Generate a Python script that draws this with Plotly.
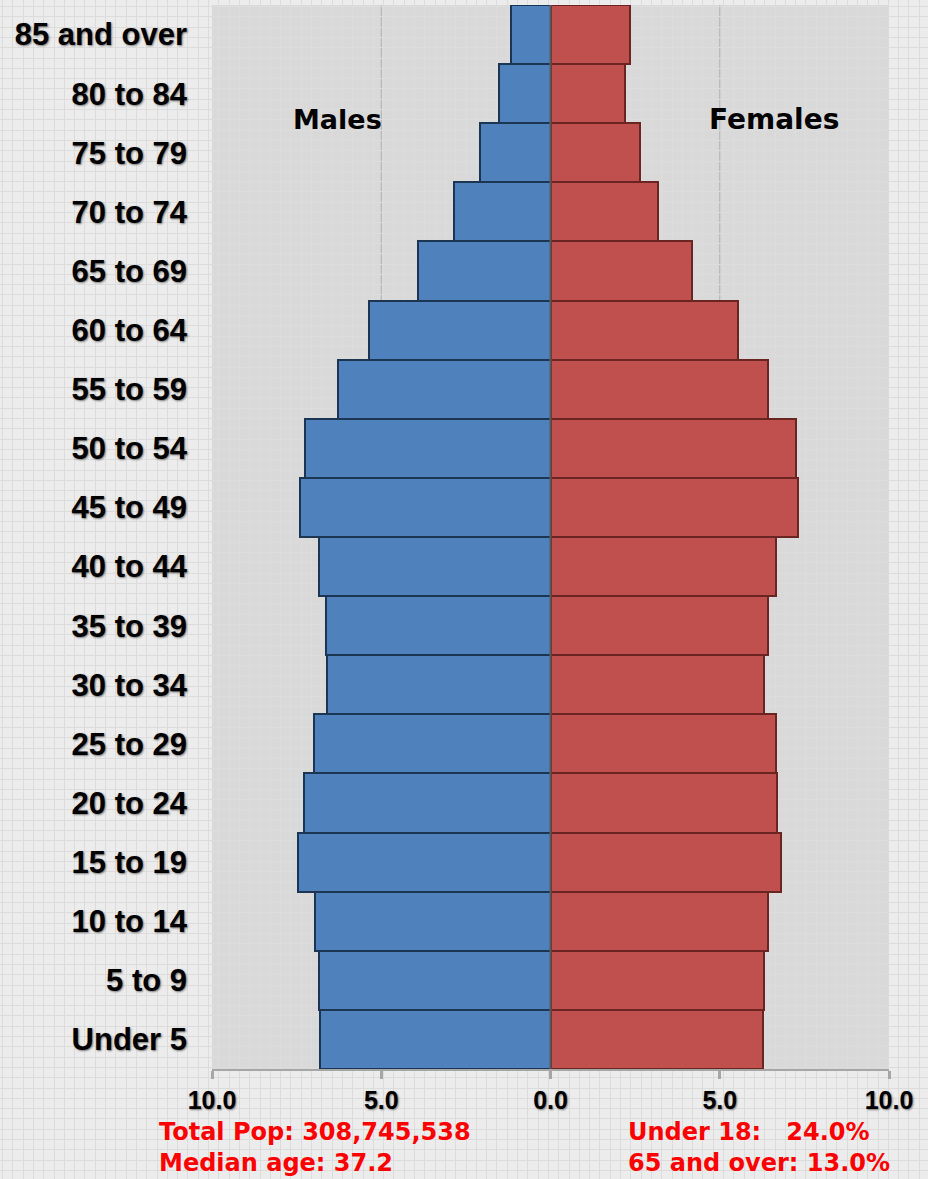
import plotly.graph_objects as go

age_groups = ["Under 5", "5 to 9", "10 to 14", "15 to 19", "20 to 24", "25 to 29",
              "30 to 34", "35 to 39", "40 to 44", "45 to 49", "50 to 54", "55 to 59",
              "60 to 64", "65 to 69", "70 to 74", "75 to 79", "80 to 84", "85 and over"]
males = [6.82, 6.85, 6.97, 7.47, 7.27, 7.00, 6.59, 6.62, 6.85, 7.39, 7.24, 6.29,
         5.35, 3.90, 2.84, 2.07, 1.51, 1.18]
females = [6.29, 6.32, 6.44, 6.82, 6.68, 6.65, 6.32, 6.44, 6.65, 7.30, 7.24, 6.44,
           5.55, 4.19, 3.19, 2.63, 2.19, 2.36]
x_tickvals = [-10, -5, 0, 5, 10]
x_ticktext = ["10.0", "5.0", "0.0", "5.0", "10.0"]

W, H = 928, 1179
x0p, x1p, y0p, y1p = 212, 889, 5, 1069

fig = go.Figure()

# invisible trace to create the page-grid background axes (xaxis/yaxis)
fig.add_trace(go.Scatter(x=[0], y=[0], mode="markers", marker=dict(opacity=0),
                         hoverinfo="skip", showlegend=False, xaxis="x", yaxis="y"))

fig.add_trace(go.Bar(
    y=age_groups, x=[-v for v in males], orientation="h", name="Males",
    marker=dict(color="#4f81bd", line=dict(color="#1b3553", width=2)),
    xaxis="x2", yaxis="y2", showlegend=False))
fig.add_trace(go.Bar(
    y=age_groups, x=females, orientation="h", name="Females",
    marker=dict(color="#c0504d", line=dict(color="#6a2422", width=2)),
    xaxis="x2", yaxis="y2", showlegend=False))

fig.update_layout(
    width=W, height=H,
    margin=dict(l=0, r=0, t=0, b=0, autoexpand=False),
    paper_bgcolor="#ececec",
    plot_bgcolor="rgba(0,0,0,0)",
    barmode="relative",
    bargap=0,
    xaxis=dict(domain=[0, 1], range=[0, W], tick0=2.5, dtick=10.3, showgrid=True,
               gridcolor="#dcdcdc", gridwidth=1, showticklabels=False, zeroline=False,
               showline=False, fixedrange=True, automargin=False),
    yaxis=dict(domain=[0, 1], range=[H, 0], tick0=6.5, dtick=10.3, showgrid=True,
               gridcolor="#dcdcdc", gridwidth=1, showticklabels=False, zeroline=False,
               showline=False, fixedrange=True, automargin=False),
    xaxis2=dict(domain=[x0p / W, x1p / W], anchor="y2", range=[-10, 10],
                tickvals=x_tickvals, ticktext=x_ticktext, automargin=False,
                showgrid=False, zeroline=False,
                showline=True, linecolor="#a6a6a6", linewidth=2,
                ticks="outside", ticklen=8, tickwidth=3, tickcolor="#a6a6a6",
                tickfont=dict(family="Liberation Sans", size=25, color="black",
                              weight="bold", shadow="1px 1px 2px #777")),
    yaxis2=dict(domain=[1 - y1p / H, 1 - y0p / H], anchor="x2", automargin=False,
                categoryorder="array", categoryarray=age_groups,
                showgrid=False, zeroline=False, showline=False, ticks="",
                ticklabelstandoff=24,
                tickfont=dict(family="Liberation Sans", size=31, color="black",
                              weight="bold", shadow="1px 1px 2px #777")),
)

# gray plot area
fig.add_shape(type="rect", xref="x2 domain", yref="y2 domain", x0=0, x1=1, y0=0, y1=1,
              fillcolor="#d9d9d9", line=dict(width=0), layer="below")
# gridlines at +/-5
for gx in [-5, 5]:
    fig.add_shape(type="line", xref="x2", yref="y2 domain", x0=gx, x1=gx, y0=0, y1=1,
                  line=dict(color="#b0b0b0", width=1), layer="below")
# center line
fig.add_shape(type="line", xref="x2", yref="y2 domain", x0=0, x1=0, y0=0, y1=1,
              line=dict(color="#5a5a5a", width=2), layer="above")

fig.add_annotation(x=-6.3, y="80 to 84", xref="x2", yref="y2", text="Males",
                   showarrow=False, yshift=-26,
                   font=dict(family="DejaVu Sans", size=27, color="black", weight="bold"))
fig.add_annotation(x=6.6, y="80 to 84", xref="x2", yref="y2", text="Females",
                   showarrow=False, yshift=-26,
                   font=dict(family="DejaVu Sans", size=28, color="black", weight="bold"))

red = dict(family="DejaVu Sans", size=24, color="#ff0000", weight="bold")
fig.add_annotation(x=157 / W, y=1 - 1147 / H, xref="paper", yref="paper",
                   xanchor="left", yanchor="middle", align="left", showarrow=False,
                   text="Total Pop: 308,745,538<br>Median age: 37.2", font=red)
fig.add_annotation(x=626 / W, y=1 - 1147 / H, xref="paper", yref="paper",
                   xanchor="left", yanchor="middle", align="left", showarrow=False,
                   text="Under 18:\u00a0\u00a0 24.0%<br>65 and over: 13.0%", font=red)

fig.write_html("out.html", config={"displayModeBar": False},
               post_script="document.body.style.margin='0';document.body.style.overflow='hidden';")
